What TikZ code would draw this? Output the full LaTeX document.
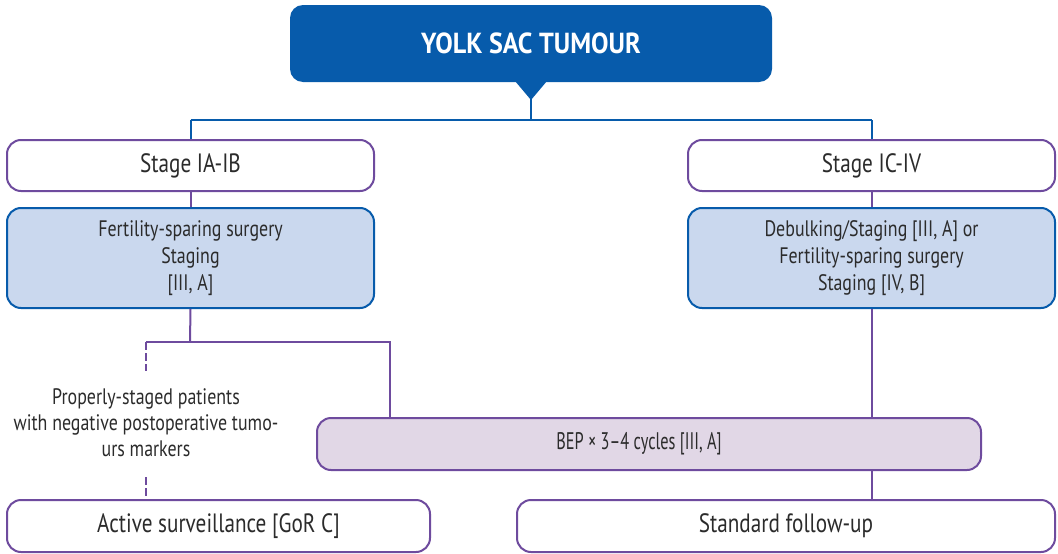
\documentclass[tikz,border=0pt]{standalone}
\usepackage{fontspec}
\setmainfont[FakeStretch=0.80]{PT Sans}
\newfontfamily\bepfont[FakeStretch=0.68]{PT Sans}
\newfontfamily\titlefont[FakeStretch=0.90]{PT Sans}
\usetikzlibrary{calc}
\definecolor{ysblue}{HTML}{075BAB}
\definecolor{yspurple}{HTML}{6E4B9E}
\definecolor{yslightblue}{HTML}{CAD8EE}
\definecolor{yslilac}{HTML}{E1D7E6}
\definecolor{ystext}{HTML}{2B2B2B}
\begin{document}
\begin{tikzpicture}[x=1pt,y=-1pt,
  box/.style={draw, line width=2pt, rounded corners=14pt, inner sep=0pt,
    text=ystext, align=center, font=\fontsize{22.4}{27}\selectfont},
  stagebox/.style={box, draw=yspurple, fill=white, minimum width=367pt,
    minimum height=51pt, font=\fontsize{26.5}{30}\selectfont},
  treatbox/.style={box, draw=ysblue, fill=yslightblue, minimum width=367pt,
    minimum height=100pt},
  endbox/.style={box, draw=yspurple, fill=white, minimum height=52pt,
    font=\fontsize{26.5}{30}\selectfont},
  bluelink/.style={draw=ysblue, line width=2pt},
  purplelink/.style={draw=yspurple, line width=2pt},
  dashlink/.style={purplelink, dash pattern=on 8pt off 3pt},
]
\useasboundingbox (0,0) rectangle (1058,554);

% title with its pointer
\node[fill=ysblue, rounded corners=13pt, minimum width=482pt, minimum height=77pt,
  inner sep=0pt, text=white, font=\titlefont\fontsize{29}{32}\bfseries\selectfont]
  (title) at (531,43.5) {YOLK SAC TUMOUR};
\fill[ysblue] (515,81) -- (547,81) -- (531,100) -- cycle;
\coordinate (tip) at (531,99);

% stages
\node[stagebox] (s1) at (190.5,165.5) {Stage IA-IB};
\node[stagebox] (s2) at (871.5,165.5) {Stage IC-IV};

% surgery
\node[treatbox] (t1) at (190.5,258) {Fertility-sparing surgery\\Staging\\{[}III, A{]}};
\node[treatbox] (t2) at (871.5,258) {Debulking/Staging [III, A] or\\Fertility-sparing surgery\\Staging [IV, B]};

% chemotherapy
\node[box, draw=yspurple, fill=yslilac, minimum width=664pt, minimum height=52pt,
  font=\bepfont\fontsize{24}{27}\selectfont]
  (bep) at (649,444) {\hspace*{-20pt}BEP × 3–4 cycles [III, A]};

% surveillance criterion
\node[text=ystext, align=center, font=\fontsize{22.4}{26}\selectfont, inner sep=2pt]
  (crit) at (146,423) {Properly-staged patients\\with negative postoperative tumo-\\urs markers};

% outcomes
\node[endbox, minimum width=423pt] (o1) at (218.5,526) {Active surveillance [GoR C]};
\node[endbox, minimum width=538pt] (o2) at (786,526) {Standard follow-up};

% connectors
\coordinate (top) at (531,120);
\draw[bluelink] (tip) -- (top);
\draw[bluelink] (s1.north |- top) -- (s2.north |- top);
\draw[bluelink] (s1.north |- top) -- (s1.north);
\draw[bluelink] (s2.north |- top) -- (s2.north);
\draw[purplelink] (s1.south) -- (t1.north);
\draw[purplelink] (s2.south) -- (t2.north);

\coordinate (split) at (190,342);
\coordinate (leftturn) at (146,342);
\coordinate (rightturn) at (390,342);
\coordinate (bepin) at (390,418);
\draw[purplelink] (t1.south) -- (split);
\draw[purplelink] (leftturn) -- (rightturn) -- (bepin);
\draw[dashlink] (leftturn) -- (146,371);
\draw[dashlink] (146,477) -- (o1.north -| leftturn);

\draw[purplelink] (t2.south) -- (bep.north -| t2.south);
\draw[purplelink] (bep.south -| t2.south) -- (o2.north -| t2.south);
\end{tikzpicture}
\end{document}
